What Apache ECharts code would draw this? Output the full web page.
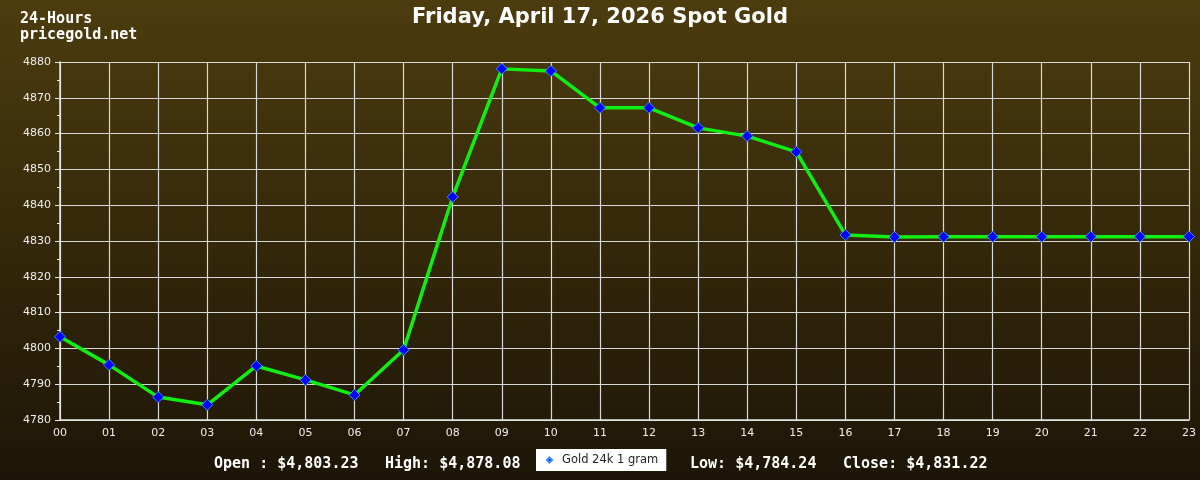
<!DOCTYPE html>
<html>
<head>
<meta charset="utf-8">
<script src="https://cdn.jsdelivr.net/npm/echarts@6/dist/echarts.min.js"></script>
<style>html,body{margin:0;padding:0;background:#2e230b}#c{width:1200px;height:480px}</style>
</head>
<body>
<div id="c"></div>
<script>
var hours = ['00','01','02','03','04','05','06','07','08','09','10','11','12','13','14','15','16','17','18','19','20','21','22','23'];
var prices = [4803.23,4795.4,4786.4,4784.24,4795.1,4791.2,4787.0,4799.6,4842.3,4878.08,4877.5,4867.2,4867.2,4861.6,4859.3,4854.9,4831.7,4831.1,4831.2,4831.2,4831.2,4831.2,4831.2,4831.22];
var seriesName = 'Gold 24k 1 gram';
var titleText = 'Friday, April 17, 2026 Spot Gold';
var statLabels = ['Open : $4,803.23', 'High: $4,878.08', 'Low: $4,784.24', 'Close: $4,831.22'];

var chart = echarts.init(document.getElementById('c'));
var mono = '"DejaVu Sans Mono", "Liberation Mono", monospace';
chart.setOption({
  animation: false,
  backgroundColor: new echarts.graphic.LinearGradient(0,0,0,1,[{offset:0,color:'#4c3c0e'},{offset:1,color:'#1d1507'}]),
  title: {
    text: titleText, left: 'center', top: 2,
    textStyle: {color:'#ffffff', fontSize: 21, fontWeight:'bold', fontFamily:'"DejaVu Sans", sans-serif'}
  },
  grid: {left: 60, right: 11, top: 62, bottom: 60},
  legend: {
    data: [{name: seriesName, icon: 'diamond'}],
    left: 536, top: 449, itemWidth: 5, itemHeight: 5, itemGap: 4,
    backgroundColor: '#ffffff', padding: [5, 8, 5, 10],
    borderRadius: 0,
    textStyle: {color:'#222', fontSize: 11.5, fontFamily:'"DejaVu Sans", sans-serif', padding:[0,0,0,5]}
  },
  xAxis: {
    type: 'category', data: hours, boundaryGap: false,
    axisLine: {show: true, lineStyle: {color:'#e8e8e8', width: 1.5}},
    axisTick: {show: false},
    axisLabel: {color:'#eeeeee', fontSize: 11, fontFamily:'"DejaVu Sans", sans-serif', margin: 8},
    splitLine: {show: true, lineStyle: {color:'#d8d8d8', width: 1.2}}
  },
  yAxis: {
    type: 'value', min: 4780, max: 4880, interval: 10,
    axisLine: {show: true, lineStyle: {color:'#e8e8e8', width: 1.5}},
    axisTick: {show: true, length: 5, lineStyle: {color:'#e8e8e8'}},
    minorTick: {show: true, splitNumber: 2, length: 3, lineStyle: {color:'#e8e8e8'}},
    axisLabel: {color:'#eeeeee', fontSize: 11, fontFamily:'"DejaVu Sans", sans-serif', margin: 9,
      formatter: function (v) { return String(v); }},
    splitLine: {show: true, lineStyle: {color:'#d8d8d8', width: 1.2}}
  },
  series: [{
    name: seriesName, type: 'line', data: prices,
    symbol: 'diamond', symbolSize: 11,
    lineStyle: {color:'#11ee11', width: 3.5},
    itemStyle: {color:'#0000ff', borderColor:'#3b8cff', borderWidth: 1}
  }],
  graphic: [
    {type:'text', left: 20, top: 11, style:{text:'24-Hours\npricegold.net', fill:'#ffffff', font:'bold 15px ' + mono, lineHeight: 16}},
    {type:'text', left: 214, top: 457, style:{text: statLabels[0], fill:'#ffffff', font:'bold 15px ' + mono}},
    {type:'text', left: 385, top: 457, style:{text: statLabels[1], fill:'#ffffff', font:'bold 15px ' + mono}},
    {type:'text', left: 690, top: 457, style:{text: statLabels[2], fill:'#ffffff', font:'bold 15px ' + mono}},
    {type:'text', left: 843, top: 457, style:{text: statLabels[3], fill:'#ffffff', font:'bold 15px ' + mono}}
  ]
});
</script>
</body>
</html>
